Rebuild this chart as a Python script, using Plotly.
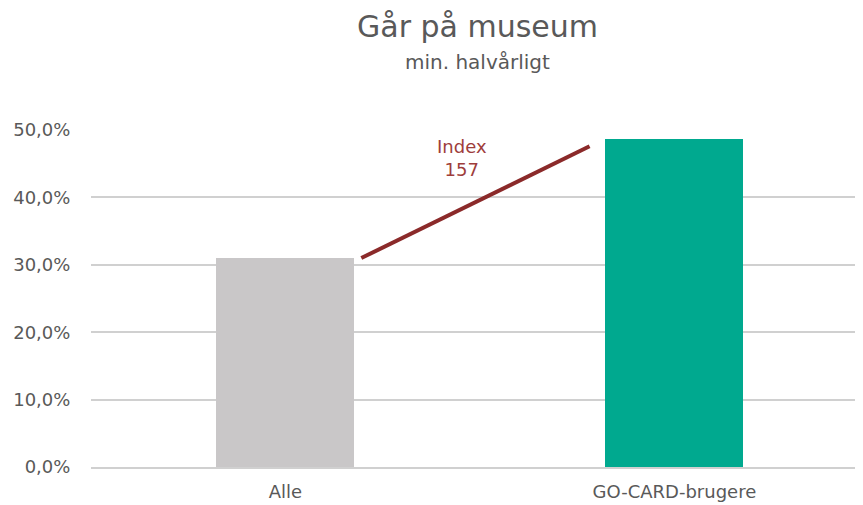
import plotly.graph_objects as go

categories = ["Alle", "GO-CARD-brugere"]
values = [0.310, 0.487]
bar_colors = ["#C9C7C8", "#00A98F"]
index_value = 157
line_x = [0.195, 0.782]
line_y = [0.310, 0.476]
tick_vals = [0, 0.1, 0.2, 0.3, 0.4, 0.5]

FONT = "DejaVu Sans"
GREY = "#595959"

fig = go.Figure()
fig.add_trace(go.Bar(
    x=categories, y=values, marker=dict(color=bar_colors, line=dict(width=0)),
    width=0.355, hoverinfo="skip",
))

fig.add_shape(type="line", xref="x", yref="y",
              x0=line_x[0], y0=line_y[0], x1=line_x[1], y1=line_y[1],
              line=dict(color="#8B2A2A", width=4))

fig.add_annotation(xref="x", yref="y", x=0.455, y=0.458,
                   text=f"Index<br>{index_value}", showarrow=False,
                   font=dict(family=FONT, size=18, color="#9E3D3B"),
                   align="center")

fig.add_annotation(xref="paper", yref="paper", x=0.5, y=1.306, xanchor="center", yanchor="middle",
                   text="Går på museum", showarrow=False,
                   font=dict(family=FONT, size=30, color=GREY))
fig.add_annotation(xref="paper", yref="paper", x=0.5, y=1.202, xanchor="center", yanchor="middle",
                   text="min. halvårligt", showarrow=False,
                   font=dict(family=FONT, size=20, color=GREY))

fig.update_layout(
    width=855, height=497,
    margin=dict(l=83, r=0, t=122, b=38),
    plot_bgcolor="white", paper_bgcolor="white",
    separators=",.",
    showlegend=False,
    font=dict(family=FONT, color=GREY),
    xaxis=dict(range=[-0.5, 1.485], showgrid=False, showline=True, linecolor="#D0D0D0",
               linewidth=1.5, tickfont=dict(size=18, color=GREY), ticks="outside",
               ticklen=8, tickcolor="rgba(0,0,0,0)"),
    yaxis=dict(range=[0, 0.5], tickvals=tick_vals, tickformat=".1%", showgrid=True,
               gridcolor="#D0D0D0", gridwidth=1.5, zeroline=False, showline=False,
               tickfont=dict(size=18, color=GREY), ticks="outside", ticklen=16,
               tickcolor="rgba(0,0,0,0)"),
    bargap=0,
)

fig.write_html("out.html")
